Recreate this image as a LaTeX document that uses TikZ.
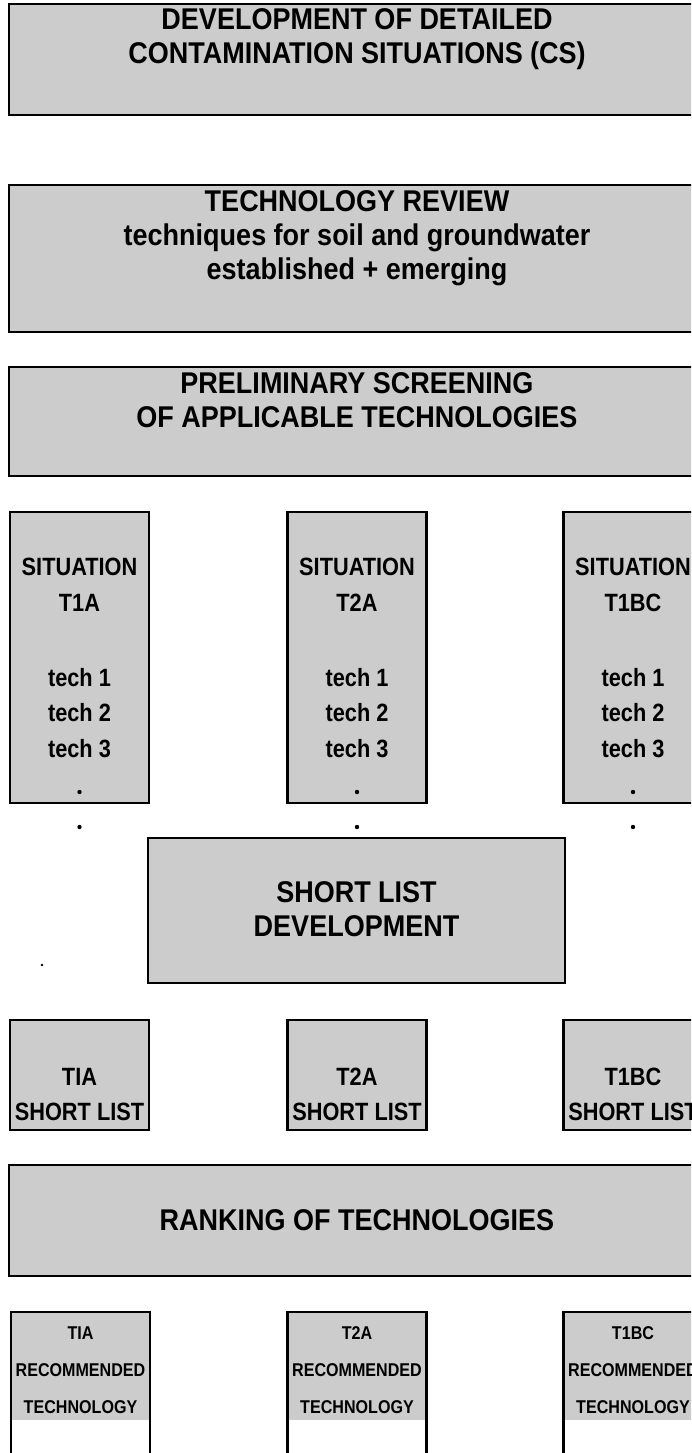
\documentclass[tikz,border=0pt]{standalone}
\usepackage{fontspec}
\newfontfamily\diagfont{Liberation Sans}[FakeStretch=0.87]
\newfontfamily\widefont{Liberation Sans}[FakeStretch=0.9]
\definecolor{screen}{gray}{0.8}
\tikzset{
  panel/.style={draw,line width=2.2pt,fill=screen,inner sep=0pt},
  bigtxt/.style={font=\widefont\bfseries\fontsize{30}{34}\selectfont,align=center,inner sep=0pt},
  coltxt/.style={font=\diagfont\bfseries\fontsize{25}{35.5}\selectfont,align=center,inner sep=0pt},
  rectxt/.style={font=\diagfont\bfseries\fontsize{18.5}{37}\selectfont,align=center,inner sep=0pt}
}
\begin{document}
\begin{tikzpicture}[x=1pt,y=-1pt]
\useasboundingbox (0,0) rectangle (691,1453);
\clip (0,0) rectangle (691,1453);
\node[panel,minimum width=696,minimum height=111] (cs) at (357,59.5) {};
\node[bigtxt] (cs-t) at (357,39) {DEVELOPMENT OF DETAILED\\CONTAMINATION SITUATIONS (CS)};
\node[panel,minimum width=696,minimum height=147] (review) at (357,258.5) {};
\node[bigtxt] (review-t) at (357,238.5) {TECHNOLOGY REVIEW\\techniques for soil and groundwater\\established + emerging};
\node[panel,minimum width=696,minimum height=109] (screening) at (357,421.5) {};
\node[bigtxt] (screening-t) at (357,400.5) {PRELIMINARY SCREENING\\OF APPLICABLE TECHNOLOGIES};
\foreach \cx/\sid/\slab in {79.5/a/T1A,357/b/T2A,633/c/T1BC}{
  \node[panel,minimum width=139,minimum height=291] (sit-\sid) at (\cx,657.5) {};
  \node[coltxt] (sit-\sid-head) at (\cx,585) {SITUATION\\\slab};
  \node[coltxt] (sit-\sid-list) at (\cx,713) {tech 1\\tech 2\\tech 3};
  \fill (\cx,792) circle[radius=2.2pt];
  \fill (\cx,827) circle[radius=2.2pt];
}
\node[panel,minimum width=417,minimum height=145] (shortdev) at (356.5,910.5) {};
\node[bigtxt] (shortdev-t) at (356.5,909.5) {SHORT LIST\\DEVELOPMENT};
\fill (42,965) circle[radius=1.3pt];
\foreach \cx/\sid/\slab in {79.5/a/TIA,357/b/T2A,633/c/T1BC}{
  \node[panel,minimum width=139,minimum height=110] (short-\sid) at (\cx,1075) {};
  \node[coltxt] (short-\sid-t) at (\cx,1094.5) {\slab\\SHORT LIST};
}
\node[panel,minimum width=696,minimum height=111] (ranking) at (357,1220.5) {};
\node[bigtxt] (ranking-t) at (357,1220) {RANKING OF TECHNOLOGIES};
\foreach \cx/\sid/\slab in {80.5/a/TIA,357/b/T2A,633/c/T1BC}{
  \node[panel,fill=white,minimum width=139,minimum height=170] (rec-\sid) at (\cx,1397) {};
  \fill[screen] (\cx-68.4,1313.1) rectangle (\cx+68.4,1420);
  \node[rectxt] (rec-\sid-t) at (\cx,1370) {\slab\\RECOMMENDED\\TECHNOLOGY};
}
\end{tikzpicture}
\end{document}
